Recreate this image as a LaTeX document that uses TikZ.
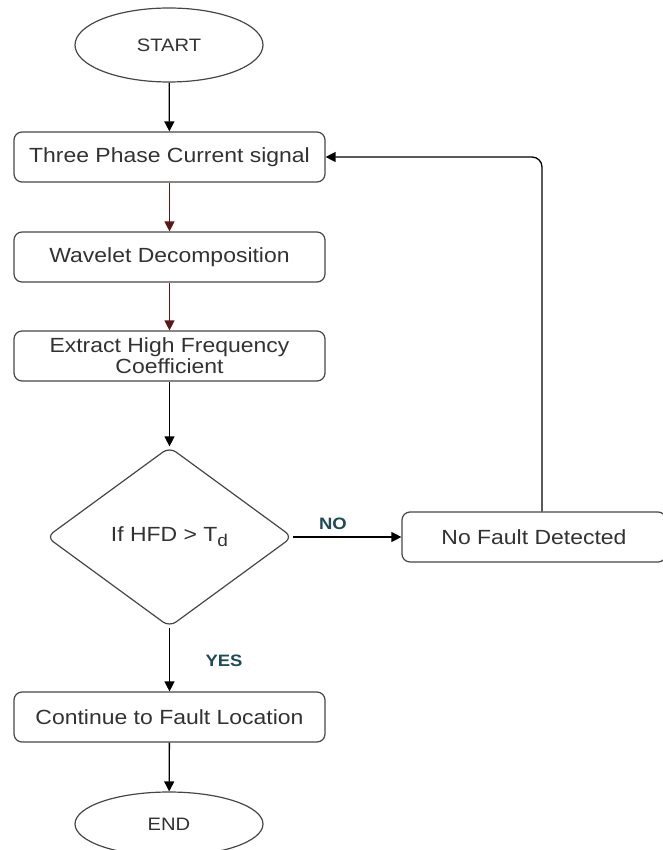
\documentclass[tikz,border=0pt]{standalone}
\usepackage{fontspec}
\setmainfont{Liberation Sans}[FakeStretch=1.12]
\usepackage{tikz}
\usetikzlibrary{shapes.geometric,arrows.meta}

\definecolor{edgegray}{RGB}{70,70,70}
\definecolor{textgray}{RGB}{50,50,50}
\definecolor{darkred}{RGB}{90,25,25}
\definecolor{branchteal}{RGB}{30,74,90}

\begin{document}
\begin{tikzpicture}[x=1pt,y=-1pt,
        terminal/.style={ellipse,draw=edgegray,line width=1.2pt,minimum width=188pt,minimum height=74pt,inner sep=0pt,text=textgray,font=\fontsize{18}{20}\selectfont},
        process/.style={rectangle,rounded corners=8pt,draw=edgegray,line width=1.2pt,minimum width=311pt,minimum height=50pt,inner sep=0pt,text=textgray,align=center,font=\fontsize{20.5}{21}\selectfont},
        decision/.style={diamond,aspect=1.37,rounded corners=8pt,draw=edgegray,line width=1.2pt,minimum width=246pt,minimum height=180pt,inner sep=0pt,text=textgray,font=\fontsize{20.5}{21}\selectfont},
        flow/.style={-{Triangle[length=10pt,width=10pt]},line width=1.3pt},
        branch/.style={text=branchteal,font=\bfseries\fontsize{16.5}{18}\selectfont}
    ]
        \useasboundingbox (0,0) rectangle (662,850);
        \node[terminal] (start) at (169,45) {START};
        \node[process] (signal) at (169.5,157) {Three Phase Current signal};
        \node[process] (wavelet) at (169.5,257) {Wavelet Decomposition};
        \node[process] (extract) at (169.5,356) {Extract High Frequency\\Coefficient};
        \node[decision] (check) at (169.5,537) {If HFD > T\raisebox{-0.45ex}{\fontsize{17}{17}\selectfont d}};
        \node[process,minimum width=264pt] (nofault) at (534,537) {No Fault Detected};
        \node[process] (locate) at (169.5,717) {Continue to Fault Location};
        \node[terminal,minimum height=64pt] (end) at (169,824) {END};
        \node[branch] (no) at (333,524) {NO};
        \node[branch] (yes) at (224,661) {YES};
        \draw[flow] (start) -- (signal);
        \draw[flow,darkred] (signal) -- (wavelet);
        \draw[flow,darkred] (wavelet) -- (extract);
        \draw[flow] (extract) -- (check);
        \draw[flow] (check) -- (nofault);
        \draw[flow,rounded corners=10pt] ([xshift=8pt]nofault.north) |- (signal.east);
        \draw[flow] (check) -- (locate);
        \draw[flow] (locate) -- (end);
    \end{tikzpicture}
\end{document}
